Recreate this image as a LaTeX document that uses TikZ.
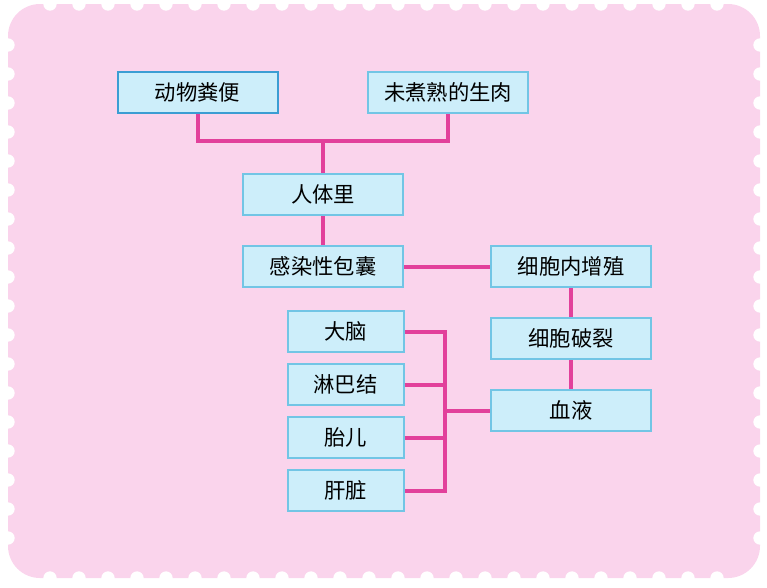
\documentclass[tikz,border=0pt]{standalone}
\usepackage{fontspec}
\newfontfamily\cjk{Noto Sans CJK SC}
\usetikzlibrary{positioning}
\definecolor{stampbg}{HTML}{FAD4EC}
\definecolor{boxfill}{HTML}{CDEEFA}
\definecolor{boxline}{HTML}{72C5E5}
\definecolor{boxlinedark}{HTML}{3B9DD3}
\definecolor{linkcolor}{HTML}{E2409B}
\def\boxwidth{120pt}
\def\organwidth{87pt}
\def\boxheight{30.75pt}
\def\vgap{21.75pt}
\def\organgap{7.5pt}
\def\notchr{5pt}
\def\boxfont{\cjk\fontsize{16}{16}\selectfont}
\tikzset{
% Box
box/.style={
	rectangle,
	draw=boxline,
	fill=boxfill,
	line width=1.5pt,
	inner sep=0pt,
	minimum width=\boxwidth,
	minimum height=\boxheight,
	font=\boxfont,
},
% Source box
sourcebox/.style={
	box,
	draw=boxlinedark,
},
% Organ
organ/.style={
	box,
	minimum width=\organwidth,
},
% Connection
link/.style={
	draw=linkcolor,
	line width=3pt,
},
}
\begin{document}
\begin{tikzpicture}[x=0.75pt, y=-0.75pt]
	\useasboundingbox (0,0) rectangle (767,587);

	% Stamp
	\fill[stampbg, rounded corners=24pt] (8,4) rectangle (760,578);
	\foreach \x in {50,79,...,717} {
		\fill[white] (\x,4) circle[radius=\notchr];
		\fill[white] (\x,578) circle[radius=\notchr];
	}
	\foreach \y in {45,74,...,538} {
		\fill[white] (8,\y) circle[radius=\notchr];
		\fill[white] (760,\y) circle[radius=\notchr];
	}

	% Components
	\node[sourcebox] (feces) at (197.5,92.5) {动物粪便};
	\node[box] (meat) at (448,92.5) {未煮熟的生肉};

	\node[box] (human) at (323,194.5) {人体里};
	\node[box, below=\vgap of human] (cyst) {感染性包囊};

	\node[box, right=64.5pt of cyst] (multiply) {细胞内增殖};
	\node[box, below=\vgap of multiply] (rupture) {细胞破裂};
	\node[box, below=\vgap of rupture] (blood) {血液};

	\node[organ] (brain) at (345.5,331.5) {大脑};
	\node[organ, below=\organgap of brain] (lymph) {淋巴结};
	\node[organ, below=\organgap of lymph] (fetus) {胎儿};
	\node[organ, below=\organgap of fetus] (liver) {肝脏};

	% Connections

	% Sources to human body
	\coordinate (join) at (323,141);
	\draw[link] (feces.south) |- (join) -| (meat.south);
	\draw[link] (join) -- (human.north);

	% Infection path
	\draw[link] (human.south) -- (cyst.north);
	\draw[link] (cyst.east) -- (multiply.west);
	\draw[link] (multiply.south) -- (rupture.north);
	\draw[link] (rupture.south) -- (blood.north);

	% Blood to organs
	\path (brain.east) ++(40,0) coordinate (bustop);
	\draw[link] (brain.east) -- (bustop) |- (liver.east);
	\foreach \n in {lymph, fetus}
		\draw[link] (\n.east) -- (bustop |- \n.east);
	\draw[link] (bustop |- blood.west) -- (blood.west);
\end{tikzpicture}
\end{document}
